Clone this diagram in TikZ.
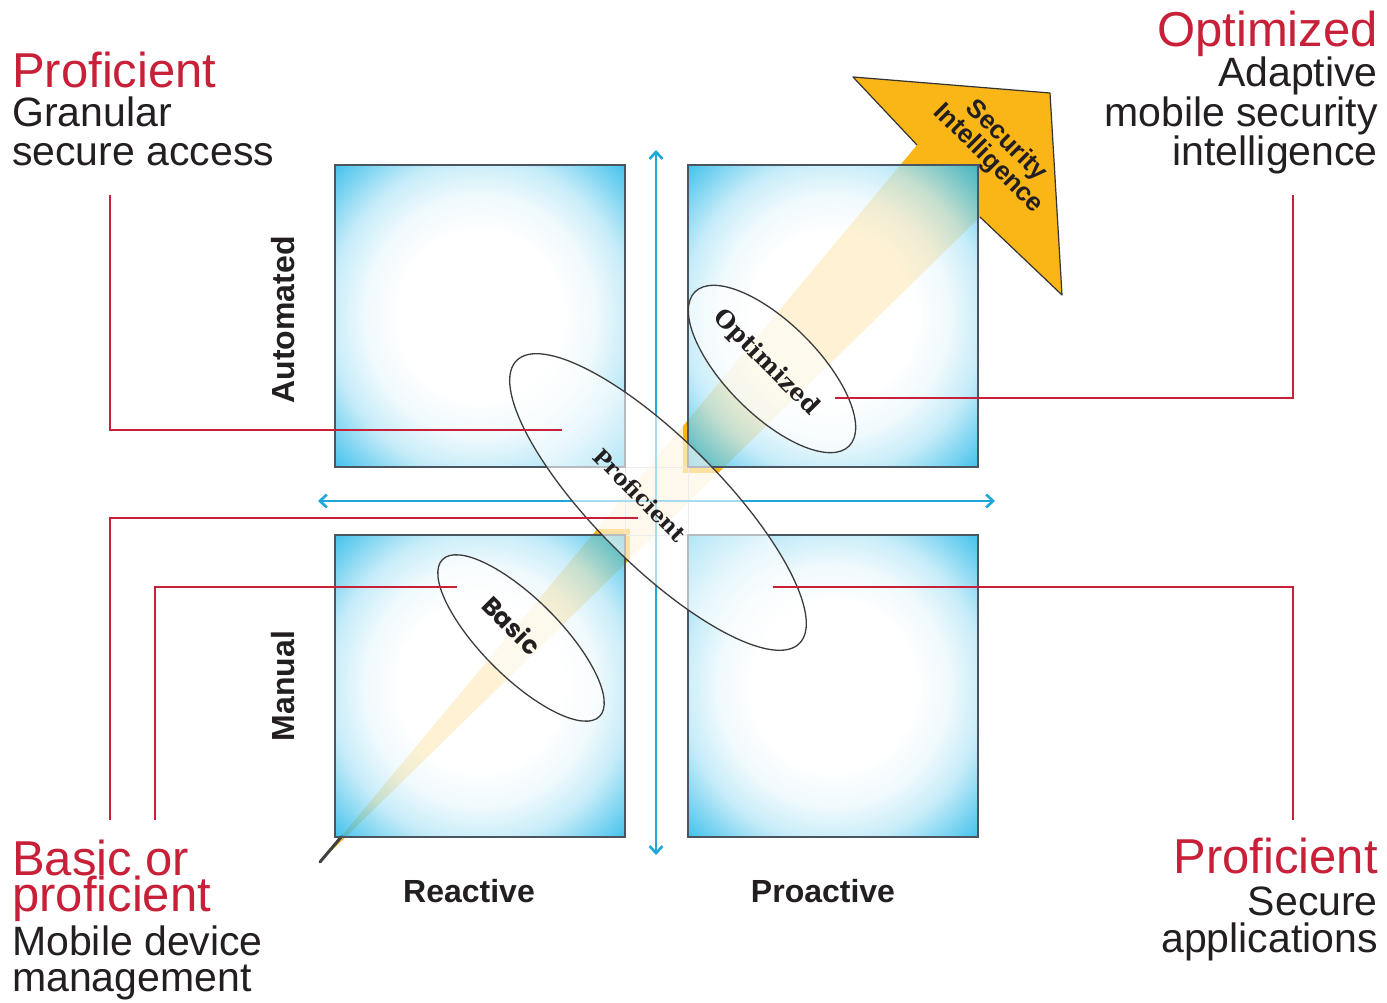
\documentclass[tikz,border=0pt]{standalone}
\usepackage{fontspec}
\setmainfont{Liberation Sans}
\newfontfamily\slabfont{DejaVu Serif}
\newfontfamily\geofont{Poppins}
\usetikzlibrary{arrows.meta,shapes.geometric}

\definecolor{titlered}{RGB}{200,32,56}
\definecolor{ink}{RGB}{35,31,32}
\definecolor{tilecyan}{RGB}{26,180,232}
\colorlet{tilemid}{tilecyan!30!white}
\colorlet{tilesoft}{tilecyan!8!white}
\definecolor{axiscyan}{RGB}{30,168,218}
\definecolor{beamorange}{RGB}{250,182,22}
\definecolor{tileedge}{RGB}{75,85,95}
\definecolor{ringedge}{RGB}{60,60,60}

% white centre fading to cyan towards the corners of each tile
\pgfdeclareradialshading{tileglow}{\pgfpoint{0bp}{0bp}}{color(0bp)=(white); color(14bp)=(white); color(20bp)=(tilesoft); color(26bp)=(tilemid); color(35.4bp)=(tilecyan); color(50bp)=(tilecyan)}

\tikzset{
  tile/.style={shading=tileglow, fill opacity=0.82},
  tileframe/.style={draw=tileedge, line width=1.2},
  band/.style={fill=white, fill opacity=0.8},
  axis/.style={draw=axiscyan, line width=2.6, {Straight Barb[length=7, width=13]}-{Straight Barb[length=7, width=13]}},
  ring/.style={ellipse, draw=ringedge, line width=1.3, fill=white, fill opacity=0.6, inner sep=0},
  callout/.style={draw=titlered, line width=2},
  headline/.style={text=titlered, inner sep=0, font=\fontsize{49}{49}\selectfont},
  bodyline/.style={text=ink, inner sep=0, font=\fontsize{41}{41}\selectfont},
  axislabel/.style={text=ink, inner sep=0, font=\bfseries\fontsize{32}{32}\selectfont},
  ringlabel/.style={text=ink, inner sep=0, rotate=-45},
}

\begin{document}
\begin{tikzpicture}[x=1pt, y=1pt]
\useasboundingbox[fill=white] (0,0) rectangle (1387,1003);

% beam with its arrow head
\fill[beamorange] (320,141) -- (917,858) -- (853,926) -- (1050,910) -- (1062,708) -- (980,786) -- cycle;
\draw[black!75, line width=3, line cap=round] (320,141) -- (342,167);

% four quadrant tiles
\foreach \x/\y in {335/536, 688/536, 335/166, 688/166}{
  \shade[tile] (\x,\y) rectangle ++(290,302);
}
% pale bands along the axes
\fill[band] (630,166) rectangle (683,838);
\fill[band] (335,474) rectangle (630,530);
\fill[band] (683,474) rectangle (980,530);
\draw[black!18, line width=0.8] (625,468) rectangle (688,536);
\foreach \x/\y in {335/536, 688/536, 335/166, 688/166}{
  \draw[tileframe] (\x,\y) rectangle ++(290,302);
}

% outline of the arrow head
\draw[black!80, line width=1.2, line join=round] (917,858) -- (853,926) -- (1050,910) -- (1062,708) -- (980,786);

% axes
\draw[axis] (656,853) -- (656,148);
\draw[axis] (318,502) -- (995,502);

% maturity rings
\node[ring, minimum width=400, minimum height=126, rotate=-45] (profRing) at (658,501) {};
\node[ring, minimum width=218, minimum height=92, rotate=-45] (optRing) at (772,634) {};
\node[ring, minimum width=222, minimum height=78, rotate=-45] (basicRing) at (521,365) {};

\node[ringlabel, font=\slabfont\bfseries\fontsize{22}{22}\selectfont] (profTxt) at (640,508) {Proficient};
\node[ringlabel, font=\slabfont\bfseries\fontsize{24}{24}\selectfont] (optTxt) at (766,640) {Optimized};
\node[ringlabel, font=\geofont\bfseries\fontsize{25}{25}\selectfont] (basicTxt) at (512,378) {Basic};

\node[text=ink, inner sep=0, rotate=-45, align=center, font=\bfseries\fontsize{26}{22}\selectfont] (headTxt) at (997,853) {Security\\Intelligence};

% axis labels
\node[axislabel, rotate=90] (autoLbl) at (283,683) {Automated};
\node[axislabel, rotate=90] (manLbl) at (283,317) {Manual};
\node[axislabel] (reactLbl) at (469,112) {Reactive};
\node[axislabel] (proactLbl) at (823,112) {Proactive};

% top left caption
\node[headline, anchor=base west] (tlHead) at (12,915) {Proficient};
\node[bodyline, anchor=base west] (tlBodyA) at (12,876) {Granular};
\node[bodyline, anchor=base west] (tlBodyB) at (12,837) {secure access};

% top right caption
\node[headline, anchor=base east] (trHead) at (1378,956) {Optimized};
\node[bodyline, anchor=base east] (trBodyA) at (1378,916) {Adaptive};
\node[bodyline, anchor=base east] (trBodyB) at (1378,876) {mobile security};
\node[bodyline, anchor=base east] (trBodyC) at (1378,837) {intelligence};

% bottom left caption
\node[headline, anchor=base west] (blHeadA) at (12,127) {Basic or};
\node[headline, anchor=base west] (blHeadB) at (12,91) {proficient};
\node[bodyline, anchor=base west] (blBodyA) at (12,47) {Mobile device};
\node[bodyline, anchor=base west] (blBodyB) at (12,11) {management};

% bottom right caption
\node[headline, anchor=base east] (brHead) at (1378,129) {Proficient};
\node[bodyline, anchor=base east] (brBodyA) at (1378,87) {Secure};
\node[bodyline, anchor=base east] (brBodyB) at (1378,50) {applications};

% callout lines from captions to rings
\coordinate (tlStart) at (110,808);
\coordinate (tlEnd) at (562,573);
\coordinate (trStart) at (1293,808);
\coordinate (trEnd) at (835,605);
\coordinate (brStart) at (1293,183);
\coordinate (brEnd) at (773,416);
\coordinate (blOuterStart) at (110,183);
\coordinate (blOuterEnd) at (638,485);
\coordinate (blInnerStart) at (155,183);
\coordinate (blInnerEnd) at (457,416);

\draw[callout] (tlStart) |- (tlEnd);
\draw[callout] (trStart) |- (trEnd);
\draw[callout] (brStart) |- (brEnd);
\draw[callout] (blOuterStart) |- (blOuterEnd);
\draw[callout] (blInnerStart) |- (blInnerEnd);
\end{tikzpicture}
\end{document}
